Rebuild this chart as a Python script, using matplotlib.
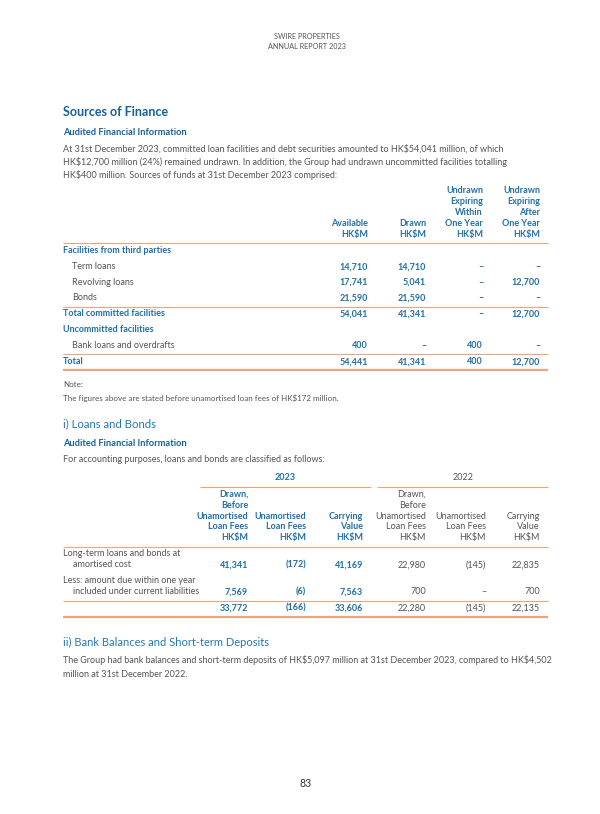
import matplotlib.pyplot as plt

plt.rcParams['font.family'] = ['Lato', 'DejaVu Sans']
plt.rcParams['text.parse_math'] = False

# === DATA ===
intro_lines = [
    "At 31st December 2023, committed loan facilities and debt securities amounted to HK$54,041 million, of which",
    "HK$12,700 million (24%) remained undrawn. In addition, the Group had undrawn uncommitted facilities totalling",
    "HK$400 million. Sources of funds at 31st December 2023 comprised:",
]

t1_headers = [
    ["Available", "HK$M"],
    ["Drawn", "HK$M"],
    ["Undrawn", "Expiring", "Within", "One Year", "HK$M"],
    ["Undrawn", "Expiring", "After", "One Year", "HK$M"],
]
third_party_labels = ["Term loans", "Revolving loans", "Bonds"]
third_party_values = [
    [14710, 14710, None, None],
    [17741, 5041, None, 12700],
    [21590, 21590, None, None],
]
total_committed = [54041, 41341, None, 12700]
uncommitted_labels = ["Bank loans and overdrafts"]
uncommitted_values = [[400, None, 400, None]]
grand_total = [54441, 41341, 400, 12700]

note_lines = ["Note:", "The figures above are stated before unamortised loan fees of HK$172 million."]

t2_years = ["2023", "2022"]
t2_headers = [
    ["Drawn,", "Before", "Unamortised", "Loan Fees", "HK$M"],
    ["Unamortised", "Loan Fees", "HK$M"],
    ["Carrying", "Value", "HK$M"],
]
t2_labels = [
    ["Long-term loans and bonds at", "amortised cost"],
    ["Less: amount due within one year", "included under current liabilities"],
]
t2_2023 = [[41341, -172, 41169], [7569, -6, 7563]]
t2_2022 = [[22980, -145, 22835], [700, None, 700]]
t2_total_2023 = [33772, -166, 33606]
t2_total_2022 = [22280, -145, 22135]

bank_lines = [
    "The Group had bank balances and short-term deposits of HK$5,097 million at 31st December 2023, compared to HK$4,502",
    "million at 31st December 2022.",
]

# === STYLE ===
BLUE_DARK = "#15609e"
BLUE = "#1f6fab"
BLUE_SUB = "#2479b5"
ORANGE = "#eba57d"
GRAY = "#555555"
BODY = 6.5
TABLE = 6.5
LEFT = 63
RIGHT = 548

fig = plt.figure(figsize=(6, 8.14), dpi=100)
ax = fig.add_axes([0, 0, 1, 1])
ax.set_xlim(0, 600)
ax.set_ylim(814, 0)
ax.axis('off')


def put(x, y, s, size=BODY, color=GRAY, bold=False, ha='left'):
    # y is the visual middle of the line; place on the baseline so that
    # brackets and dashes do not shift the row
    base = y + 0.265 * size * 100 / 72
    ax.text(x, base, s, fontsize=size, color=color, ha=ha, va='baseline',
            fontweight='bold' if bold else 'normal')


def rule(y, x0=LEFT, x1=RIGHT, lw=0.8):
    ax.plot([x0, x1], [y, y], color=ORANGE, lw=lw, solid_capstyle='butt')


def fmt(v):
    if v is None:
        return "\u2013"
    if v < 0:
        return f"({-v:,})"
    return f"{v:,}"


# === PAGE HEADER ===
put(307, 37, "SWIRE PROPERTIES", size=5.2, ha='center')
put(307, 47, "ANNUAL REPORT 2023", size=5.2, ha='center')

# === SOURCES OF FINANCE ===
put(LEFT, 113, "Sources of Finance", size=9.0, color=BLUE_DARK, bold=True)
put(LEFT, 133, "Audited Financial Information", size=6.7, color=BLUE_DARK, bold=True)
for i, line in enumerate(intro_lines):
    put(LEFT, 149 + i * 13.3, line)

t1_cols = [368, 426, 483, 540]
for cx, lines in zip(t1_cols, t1_headers):
    for j, txt in enumerate(reversed(lines)):
        put(cx, 235 - j * 11, txt, size=TABLE, color=BLUE, bold=True, ha='right')
rule(243)

put(LEFT, 251, "Facilities from third parties", size=TABLE, color=BLUE, bold=True)
row_y = [267, 282.5, 298]
for y, lab, vals in zip(row_y, third_party_labels, third_party_values):
    put(72, y, lab, size=TABLE)
    for cx, v in zip(t1_cols, vals):
        put(cx, y, fmt(v), size=TABLE, color=BLUE, bold=True, ha='right')
rule(306.5)

put(LEFT, 314, "Total committed facilities", size=TABLE, color=BLUE, bold=True)
for cx, v in zip(t1_cols, total_committed):
    put(cx, 314, fmt(v), size=TABLE, color=BLUE, bold=True, ha='right')

put(LEFT, 330, "Uncommitted facilities", size=TABLE, color=BLUE, bold=True)
for lab, vals in zip(uncommitted_labels, uncommitted_values):
    put(72, 346, lab, size=TABLE)
    for cx, v in zip(t1_cols, vals):
        put(cx, 346, fmt(v), size=TABLE, color=BLUE, bold=True, ha='right')
rule(353.5)

put(LEFT, 362, "Total", size=TABLE, color=BLUE, bold=True)
for cx, v in zip(t1_cols, grand_total):
    put(cx, 362, fmt(v), size=TABLE, color=BLUE, bold=True, ha='right')
rule(369.5, lw=1.6)

put(LEFT, 385, note_lines[0], size=5.75)
put(LEFT, 399, note_lines[1], size=5.75)

# === LOANS AND BONDS ===
put(LEFT, 424, "i) Loans and Bonds", size=8.2, color=BLUE_SUB)
put(LEFT, 444, "Audited Financial Information", size=6.7, color=BLUE_DARK, bold=True)
put(LEFT, 460, "For accounting purposes, loans and bonds are classified as follows:")

put(285, 478, t2_years[0], size=TABLE, color=BLUE, bold=True, ha='center')
put(463, 478, t2_years[1], size=TABLE, ha='center')
rule(486.5, 200, 371)
rule(486.5, 377, RIGHT)

t2_cols_2023 = [248, 306, 363]
t2_cols_2022 = [426, 486, 540]
for cx, lines in zip(t2_cols_2023, t2_headers):
    for j, txt in enumerate(reversed(lines)):
        put(cx, 538 - j * 10.9, txt, size=TABLE, color=BLUE, bold=True, ha='right')
for cx, lines in zip(t2_cols_2022, t2_headers):
    for j, txt in enumerate(reversed(lines)):
        put(cx, 538 - j * 10.9, txt, size=TABLE, ha='right')
rule(546.5)

for y, labs, v23, v22 in zip([565, 592], t2_labels, t2_2023, t2_2022):
    put(LEFT, y - 11, labs[0], size=TABLE)
    put(73, y, labs[1], size=TABLE)
    for cx, v in zip(t2_cols_2023, v23):
        put(cx, y, fmt(v), size=TABLE, color=BLUE, bold=True, ha='right')
    for cx, v in zip(t2_cols_2022, v22):
        put(cx, y, fmt(v), size=TABLE, ha='right')
rule(600.5)

for cx, v in zip(t2_cols_2023, t2_total_2023):
    put(cx, 608, fmt(v), size=TABLE, color=BLUE, bold=True, ha='right')
for cx, v in zip(t2_cols_2022, t2_total_2022):
    put(cx, 608, fmt(v), size=TABLE, ha='right')
rule(616.5, lw=1.6)

# === BANK BALANCES ===
put(LEFT, 643, "ii) Bank Balances and Short-term Deposits", size=8.0, color=BLUE_SUB)
for i, line in enumerate(bank_lines):
    put(LEFT, 661 + i * 13.3, line)

put(306, 784, "83", size=7.6, color="#333333", ha='center')

fig.savefig("out.png", dpi=100)
